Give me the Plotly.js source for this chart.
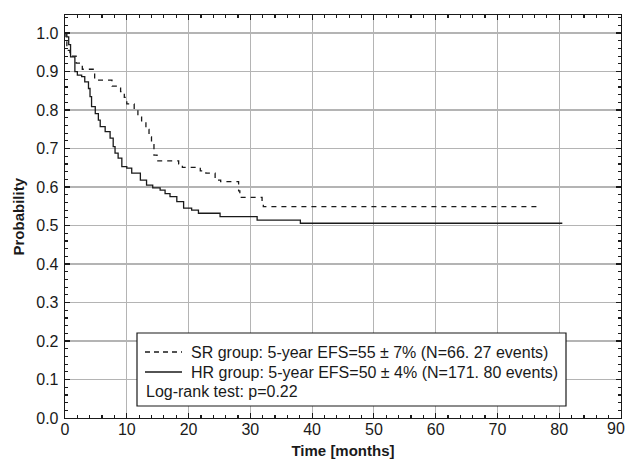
<!DOCTYPE html>
<html>
<head>
<meta charset="utf-8">
<script src="https://cdn.plot.ly/plotly-3.0.1.min.js"></script>
<style>html,body{margin:0;padding:0;background:#fff;}#chart{width:629px;height:460px;}</style>
</head>
<body>
<div id="chart"></div>
<script>
// SR group (dashed) Kaplan-Meier steps
const srTime = [0, 0.15, 0.3, 0.8, 1.8, 2.8, 4.8, 7.6, 9.0, 9.6, 10.0, 11.2, 11.8, 12.4, 13.1, 13.6, 14.0, 14.4, 14.9, 18.4, 19.0, 21.9, 22.8, 24.3, 25.2, 28.1, 28.3, 31.9, 32.1, 76.5];
const srProb = [1.0, 0.985, 0.955, 0.94, 0.922, 0.906, 0.878, 0.862, 0.848, 0.833, 0.816, 0.8, 0.785, 0.77, 0.75, 0.73, 0.71, 0.683, 0.668, 0.66, 0.651, 0.642, 0.636, 0.618, 0.614, 0.59, 0.573, 0.562, 0.549, 0.549];
// HR group (solid)
const hrTime = [0, 0.3, 0.6, 0.9, 1.6, 2.0, 2.7, 3.2, 3.8, 4.05, 4.3, 4.9, 5.4, 5.7, 6.5, 7.3, 7.8, 8.1, 8.6, 9.2, 10.0, 10.8, 12.2, 13.2, 14.2, 15.4, 16.2, 17.0, 18.1, 19.2, 20.5, 21.6, 25.1, 31.1, 38.1, 80.5];
const hrProb = [1.0, 0.99, 0.97, 0.938, 0.9, 0.891, 0.887, 0.873, 0.856, 0.835, 0.809, 0.791, 0.774, 0.757, 0.744, 0.727, 0.705, 0.688, 0.675, 0.653, 0.649, 0.636, 0.618, 0.605, 0.598, 0.592, 0.583, 0.575, 0.562, 0.545, 0.54, 0.532, 0.523, 0.514, 0.506, 0.506];

const legendLines = [
  "SR group: 5-year EFS=55 ± 7% (N=66. 27 events)",
  "HR group: 5-year EFS=50 ± 4% (N=171. 80 events)",
  "Log-rank test: p=0.22"
];
const xTicks = [0, 10, 20, 30, 40, 50, 60, 70, 80, 90];
const xTickText = ["0", "10", "20", "30", "40", "50", "60", "70", "80", ""];
const lastXTick = 90; // drawn as an annotation, nudged left to fit inside the page like the reference
const yTicks = [0, 0.1, 0.2, 0.3, 0.4, 0.5, 0.6, 0.7, 0.8, 0.9, 1.0];
const yTitle = "Probability";
const xTitle = "Time [months]";

const font = "Liberation Sans, Arial, sans-serif";

const traces = [
  {x: srTime, y: srProb, name: "SR group", mode: "lines", line: {shape: "hv", color: "#1a1a1a", width: 1.3, dash: "5px,5px"}},
  {x: hrTime, y: hrProb, name: "HR group", mode: "lines", line: {shape: "hv", color: "#1a1a1a", width: 1.3}}
];

// legend box geometry in pixels -> paper coords
const W = 629, H = 460, mL = 65, mR = 8, mT = 15, mB = 42;
const pw = W - mL - mR, ph = H - mT - mB;
const px = x => (x - mL) / pw;
const py = y => 1 - (y - mT) / ph;

const shapes = [
  {type: "rect", xref: "paper", yref: "paper", x0: px(137), x1: px(566), y0: py(406), y1: py(333), line: {color: "#1a1a1a", width: 1.2}, fillcolor: "#ffffff", layer: "above"},
  {type: "line", xref: "paper", yref: "paper", x0: px(145), x1: px(182), y0: py(352), y1: py(352), line: {color: "#1a1a1a", width: 1.3, dash: "5px,4px"}, layer: "above"},
  {type: "line", xref: "paper", yref: "paper", x0: px(145), x1: px(182), y0: py(372), y1: py(372), line: {color: "#1a1a1a", width: 1.3}, layer: "above"}
];
const legFont = {family: font, size: 16, color: "#1a1a1a"};
const tickFont = {family: font, size: 16, color: "#1a1a1a"};
const annotations = [
  {text: legendLines[0], xref: "paper", yref: "paper", x: px(189), y: py(352), xanchor: "left", yanchor: "middle", showarrow: false, font: legFont},
  {text: legendLines[1], xref: "paper", yref: "paper", x: px(189), y: py(372), xanchor: "left", yanchor: "middle", showarrow: false, font: legFont},
  {text: legendLines[2], xref: "paper", yref: "paper", x: px(144), y: py(391), xanchor: "left", yanchor: "middle", showarrow: false, font: legFont},
  {text: "<b>" + yTitle + "</b>", xref: "paper", yref: "paper", x: px(18), y: 0.5, xanchor: "center", yanchor: "middle", textangle: -90, showarrow: false, font: {family: font, size: 15, color: "#1a1a1a"}},
  {text: String(lastXTick), xref: "x", yref: "paper", x: lastXTick, y: py(428), xanchor: "right", yanchor: "middle", xshift: 5, showarrow: false, font: tickFont, borderpad: 0}
];

const axisCommon = {
  showline: true, linecolor: "#1a1a1a", linewidth: 1.3, mirror: "allticks",
  ticks: "inside", ticklen: 5, tickwidth: 1.2, tickcolor: "#1a1a1a",
  showgrid: true, gridcolor: "#b4b4b4", gridwidth: 1.2, zeroline: false,
  tickfont: tickFont,
  fixedrange: true
};

const layout = {
  width: W, height: H,
  margin: {l: mL, r: mR, t: mT, b: mB},
  paper_bgcolor: "#ffffff", plot_bgcolor: "#ffffff",
  showlegend: false,
  xaxis: Object.assign({}, axisCommon, {
    range: [0, 90], tickvals: xTicks, ticktext: xTickText,
    ticklabelstandoff: -4,
    minor: {ticks: "inside", dtick: 2, ticklen: 3, tickcolor: "#1a1a1a", showgrid: false},
    title: {text: "<b>" + xTitle + "</b>", font: {family: font, size: 15, color: "#1a1a1a"}, standoff: 9}
  }),
  yaxis: Object.assign({}, axisCommon, {
    range: [0, 1.047], tickvals: yTicks, ticktext: yTicks.map(v => v.toFixed(1)),
    ticklabelstandoff: 2,
    minor: {ticks: "inside", dtick: 0.02, ticklen: 3, tickcolor: "#1a1a1a", showgrid: false}
  }),
  shapes: shapes,
  annotations: annotations
};

Plotly.newPlot("chart", traces, layout, {displayModeBar: false, staticPlot: true});
</script>
</body>
</html>
